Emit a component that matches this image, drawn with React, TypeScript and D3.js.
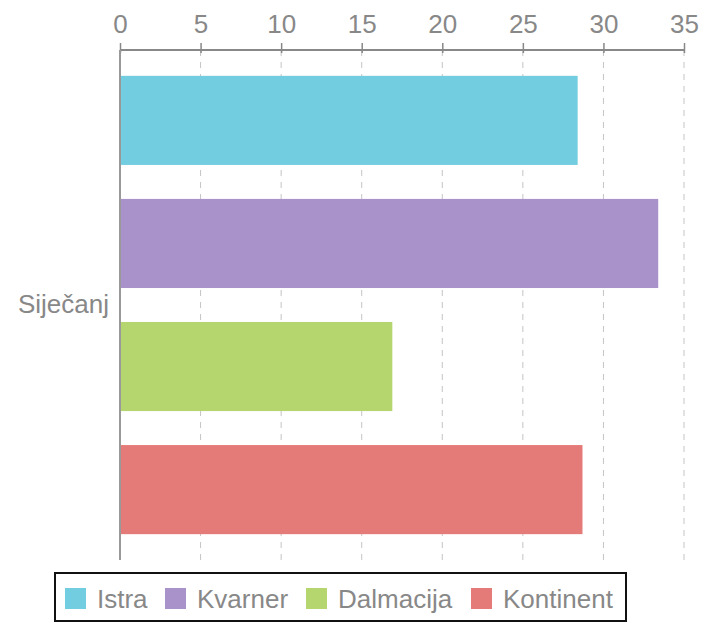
import React, { useEffect, useRef } from "react";
import * as d3 from "d3";

const category = "Siječanj";
const series = ["Istra", "Kvarner", "Dalmacija", "Kontinent"];
const values = [28.4, 33.4, 16.9, 28.7];
const colors = ["#72cde0", "#a991c9", "#b5d66f", "#e57b78"];
const ticks = [0, 5, 10, 15, 20, 25, 30, 35];

const width = 717;
const height = 623;
const font = "'Liberation Sans', Arial, Helvetica, sans-serif";

const App = () => {
  const ref = useRef<SVGSVGElement>(null);

  useEffect(() => {
    const svg = d3.select(ref.current);
    svg.selectAll("*").remove();

    const left = 120, right = 684, top = 50, bottom = 560;

    const x = d3.scaleLinear().domain([0, 35]).range([left, right]);
    const y = d3.scaleBand<string>()
      .domain(series)
      .range([top, bottom])
      .paddingInner(0.276)
      .paddingOuter(0.21);

    // dashed grid
    svg.append("g")
      .selectAll("line")
      .data(ticks.filter(t => t > 0))
      .enter().append("line")
      .attr("x1", d => x(d)).attr("x2", d => x(d))
      .attr("y1", top).attr("y2", bottom)
      .attr("stroke", "#c4c4c4")
      .attr("stroke-width", 1)
      .attr("stroke-dasharray", "6,6");

    // bars
    svg.append("g")
      .selectAll("rect")
      .data(values)
      .enter().append("rect")
      .attr("x", x(0))
      .attr("y", (d, i) => y(series[i])!)
      .attr("width", d => x(d) - x(0))
      .attr("height", y.bandwidth())
      .attr("fill", (d, i) => colors[i]);

    // top axis
    const axis = svg.append("g")
      .attr("transform", `translate(0,${top})`)
      .call(d3.axisTop(x).tickValues(ticks).tickSize(7).tickPadding(10));
    axis.select(".domain").attr("stroke", "#888").attr("stroke-width", 2)
      .attr("d", `M${left},0H${right}`);
    axis.selectAll(".tick line").attr("stroke", "#888").attr("stroke-width", 1.5)
      .attr("y1", 3);
    axis.selectAll(".tick text")
      .attr("fill", "#888")
      .style("font-family", font)
      .style("font-size", "26px");

    // left axis
    svg.append("line")
      .attr("x1", left).attr("x2", left)
      .attr("y1", top).attr("y2", bottom)
      .attr("stroke", "#999").attr("stroke-width", 2);
    svg.append("text")
      .attr("x", left - 11)
      .attr("y", (top + bottom) / 2 - 1)
      .attr("dy", "0.35em")
      .attr("text-anchor", "end")
      .attr("fill", "#888")
      .style("font-family", font)
      .style("font-size", "26px")
      .text(category);

    // legend
    const legend = svg.append("g");
    legend.append("rect")
      .attr("x", 55).attr("y", 573)
      .attr("width", 571).attr("height", 48)
      .attr("fill", "none")
      .attr("stroke", "#111")
      .attr("stroke-width", 2);
    const legendX = [65, 165, 306, 471];
    const items = legend.selectAll("g.item")
      .data(series)
      .enter().append("g")
      .attr("class", "item")
      .attr("transform", (d, i) => `translate(${legendX[i]},588)`);
    items.append("rect")
      .attr("width", 21).attr("height", 21)
      .attr("fill", (d, i) => colors[i]);
    items.append("text")
      .attr("x", 32).attr("y", 11)
      .attr("dy", "0.35em")
      .attr("fill", "#888")
      .style("font-family", font)
      .style("font-size", "26px")
      .text(d => d);
  }, []);

  return (
    <svg
      ref={ref}
      width={width}
      height={height}
      style={{ position: "absolute", left: 0, top: 0, background: "#fff" }}
    />
  );
};

export default App;
